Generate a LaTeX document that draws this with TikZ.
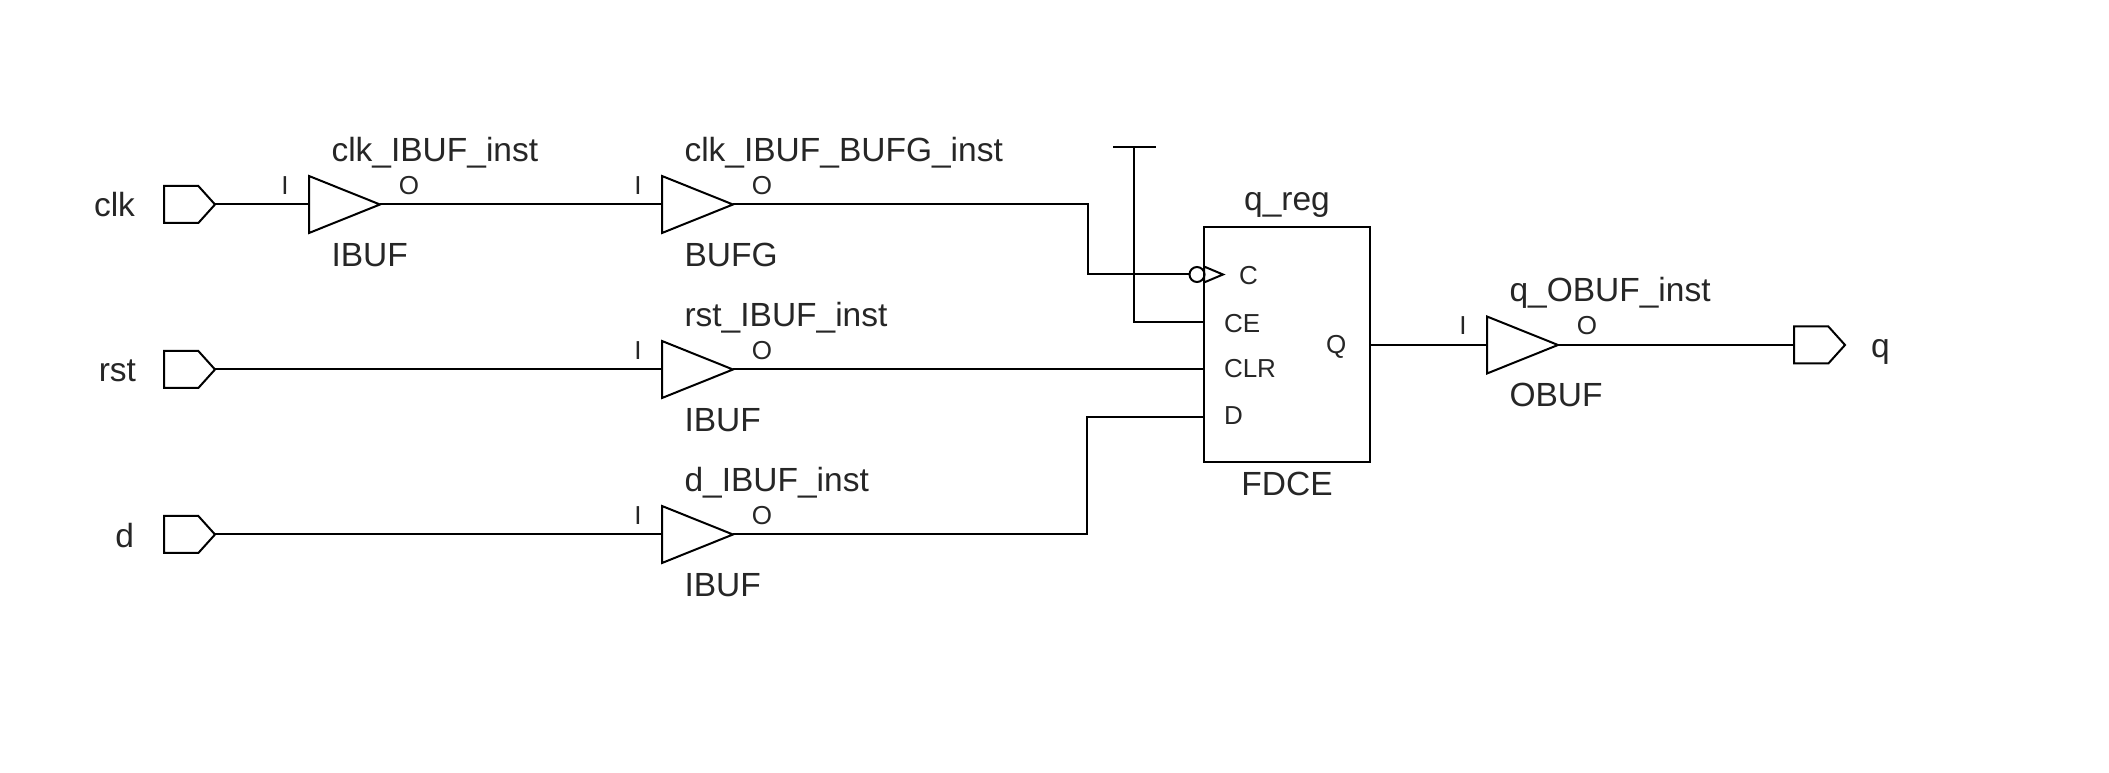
\documentclass[tikz,border=0pt]{standalone}
\usepackage{fontspec}
\setmainfont{Liberation Sans}
\usepackage{tikz}
\usetikzlibrary{positioning,shapes.geometric,shapes.symbols}

\begin{document}
\begin{tikzpicture}[x=1pt,y=1pt, every path/.style={line width=2pt},
  port/.style={draw,signal,signal to=east,signal pointer angle=96,inner sep=0pt,outer sep=0pt,minimum width=51pt,minimum height=37pt},
  buffer/.style={draw,isosceles triangle,isosceles triangle apex angle=43,isosceles triangle stretches,inner sep=0pt,outer sep=0pt,minimum width=57pt,minimum height=71pt},
  ff/.style={draw,rectangle,inner sep=0pt,outer sep=0pt,minimum width=166pt,minimum height=235pt},
  txt/.style={inner sep=0pt,text=black!85,font=\fontsize{33.5}{38}\selectfont},
  pinlabel/.style={inner sep=0pt,text=black!85,font=\fontsize{26}{30}\selectfont}]
\useasboundingbox (0,0) rectangle (2109,773);
\node[port,anchor=west] (clkport) at (164,568.5) {};
\node[port,below=128pt of clkport] (rstport) {};
\node[port,below=128pt of rstport] (dport) {};
\node[buffer,right=94pt of clkport] (clkibuf) {};
\node[buffer,right=282pt of clkibuf] (bufg) {};
\node[buffer,right=447pt of rstport] (rstibuf) {};
\node[buffer,right=447pt of dport] (dibuf) {};
\node[ff] (qreg) at (1287,428) {};
\node[buffer,right=117pt of qreg] (qobuf) {};
\node[port,right=236pt of qobuf] (qport) {};
\node[circle,draw,inner sep=0pt,outer sep=0pt,minimum size=15pt] (clkbub) at (1197,498.5) {};
\node[draw,isosceles triangle,isosceles triangle apex angle=70,isosceles triangle stretches,inner sep=0pt,outer sep=0pt,minimum width=16pt,minimum height=19pt,anchor=lower side] (clktri) at (1204,498.5) {};
\coordinate (cepin) at (qreg.west |- 0,450.5);
\coordinate (clrpin) at (qreg.west |- rstibuf);
\coordinate (dpin) at (qreg.west |- 0,355.5);
\coordinate (vcc) at (1134,626);
% port names
\node[txt,anchor=east] (clkname) at (136,568) {clk};
\node[txt,anchor=east] (rstname) at (137,402) {rst};
\node[txt,anchor=east] (dname) at (135,237) {d};
\node[txt,anchor=west] (qname) at (1870,421) {q};
% buffer pins and names
\foreach \b/\inst/\cell in {clkibuf/clk\_IBUF\_inst/IBUF,bufg/clk\_IBUF\_BUFG\_inst/BUFG,rstibuf/rst\_IBUF\_inst/IBUF,dibuf/d\_IBUF\_inst/IBUF,qobuf/q\_OBUF\_inst/OBUF}{
  \node[pinlabel] (\b i) at ([shift={(-24,19)}]\b.lower side) {I};
  \node[pinlabel] (\b o) at ([shift={(100,19)}]\b.lower side) {O};
  \node[txt,anchor=base west] (\b inst) at ([shift={(21.5,43)}]\b.lower side) {\inst};
  \node[txt,anchor=base west] (\b cell) at ([shift={(21.5,-62)}]\b.lower side) {\cell};
}
% register
\node[txt,anchor=base] (qregname) at (1287,562) {q\_reg};
\node[txt,anchor=base] (fdce) at (1287,277) {FDCE};
\node[pinlabel,anchor=west] (cname) at (1238,497) {C};
\node[pinlabel,anchor=west] (cename) at (1223,449) {CE};
\node[pinlabel,anchor=west] (clrname) at (1223,404) {CLR};
\node[pinlabel,anchor=west] (dpinname) at (1223,357) {D};
\node[pinlabel,anchor=west] (qpinname) at (1325,426) {Q};
% nets
\draw (clkport.east)--(clkibuf.lower side);
\draw (rstport.east)--(rstibuf.lower side);
\draw (dport.east)--(dibuf.lower side);
\draw (clkibuf.apex)--(bufg.lower side);
\draw (bufg.apex)-|([xshift=-102pt]clkbub.west)--(clkbub.west);
\draw (rstibuf.apex)--(clrpin);
\draw (dibuf.apex)-|([xshift=-117pt]dpin)--(dpin);
\draw (cepin)-|(vcc);
\draw ([xshift=-21pt]vcc)--([xshift=22pt]vcc);
\draw (qreg.east)--(qobuf.lower side);
\draw (qobuf.apex)--(qport.west);
\end{tikzpicture}
\end{document}
